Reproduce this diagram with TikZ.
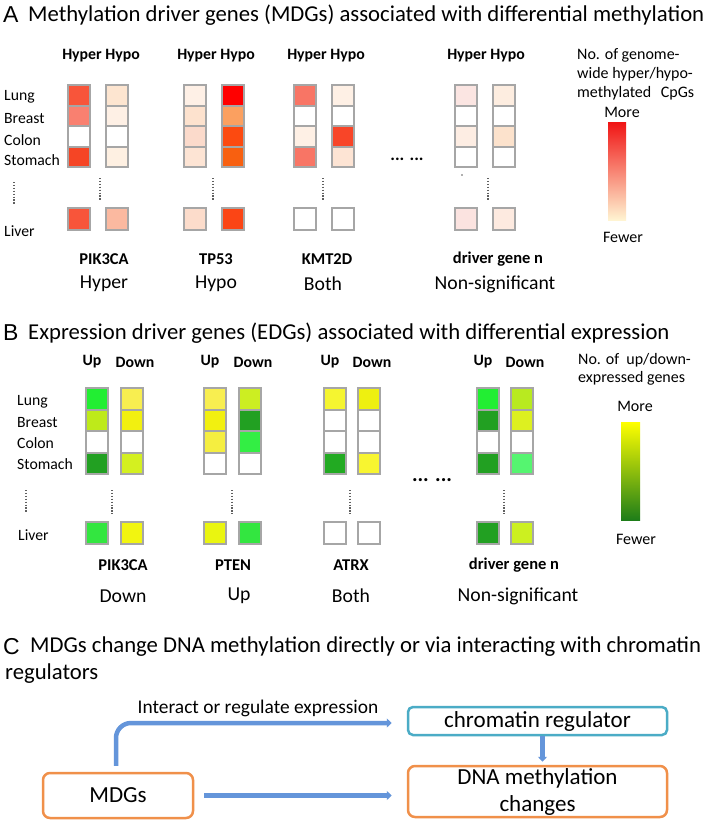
\documentclass[tikz,border=0pt]{standalone}
\usepackage{fontspec}
\setmainfont{Carlito}
\newfontfamily\arialf{Liberation Sans}
\usetikzlibrary{arrows.meta}
% panel A colours
\definecolor{pa1}{HTML}{F8553A}\definecolor{pa2}{HTML}{F98070}\definecolor{pa4}{HTML}{F54525}\definecolor{pa5}{HTML}{F8553A}
\definecolor{pb1}{HTML}{FDE5D0}\definecolor{pb2}{HTML}{FEF0E5}\definecolor{pb4}{HTML}{FEF0E2}\definecolor{pb5}{HTML}{FBB9A0}
\definecolor{ta1}{HTML}{FEF0E6}\definecolor{ta2}{HTML}{FDE2CE}\definecolor{ta3}{HTML}{FBDACB}\definecolor{ta4}{HTML}{FDE4D4}\definecolor{ta5}{HTML}{FCDCCB}
\definecolor{tb1}{HTML}{FF0000}\definecolor{tb2}{HTML}{FBA060}\definecolor{tb3}{HTML}{FC4A10}\definecolor{tb4}{HTML}{F86010}\definecolor{tb5}{HTML}{FB4515}
\definecolor{ka1}{HTML}{F87565}\definecolor{ka3}{HTML}{FEF0E5}
\definecolor{kb1}{HTML}{FEF0E5}\definecolor{kb3}{HTML}{F84528}\definecolor{kb4}{HTML}{FDE4D4}
\definecolor{da1}{HTML}{FBE5E2}\definecolor{da3}{HTML}{FDEDE3}\definecolor{da5}{HTML}{FBE3E0}
\definecolor{db1}{HTML}{FDEDE0}\definecolor{db3}{HTML}{FCE2CC}\definecolor{db5}{HTML}{FDEAE0}
% panel B colours
\definecolor{gbright}{HTML}{22EE33}\definecolor{gdark}{HTML}{22A022}\definecolor{gyg}{HTML}{BEEA1A}
\definecolor{ylight}{HTML}{F8EE50}\definecolor{yel}{HTML}{F2F010}\definecolor{yg}{HTML}{D4F020}
\definecolor{gliv}{HTML}{33E640}\definecolor{yliv}{HTML}{F2F510}\definecolor{ycol}{HTML}{F5EE40}
\definecolor{lgreen}{HTML}{CCEE22}\definecolor{gmid}{HTML}{33EE44}\definecolor{yatr}{HTML}{F5F530}
\definecolor{gatr}{HTML}{22AA22}\definecolor{yatr2}{HTML}{EEF010}\definecolor{yatr4}{HTML}{F8F530}
\definecolor{dn1}{HTML}{B8EA20}\definecolor{dn2}{HTML}{DDF020}\definecolor{dn4}{HTML}{55F570}\definecolor{dn5}{HTML}{CCF020}
\definecolor{ptu5}{HTML}{EAF510}
% misc
\definecolor{cellgray}{HTML}{A6A6A6}
\definecolor{boxorange}{HTML}{F0904A}
\definecolor{boxteal}{HTML}{4BACC6}
\definecolor{arrblue}{HTML}{6495DA}
\definecolor{dotgray}{HTML}{606060}
\newcommand\mycol[6]{%
  \foreach \cc [count=\i from 0] in {#4} {\filldraw[cellb, fill=\cc] (#1,{#2+\i*#3}) rectangle ++(22,#3);}
  \filldraw[cellb, fill=#6] (#1,#5) rectangle ++(22,22);}
\begin{document}
\begin{tikzpicture}[x=1pt,y=-1pt,
  cellb/.style={draw=cellgray, line width=2pt},
  plab/.style={font=\arialf\fontsize{23}{26}\selectfont, inner sep=0pt, anchor=west},
  ttl/.style={font=\fontsize{22.7}{26}\selectfont, inner sep=0pt, anchor=west},
  rlab/.style={font=\fontsize{15.7}{18}\selectfont, inner sep=0pt, anchor=west},
  hdr/.style={font=\bfseries\fontsize{15.8}{18}\selectfont, inner sep=0pt},
  gene/.style={font=\bfseries\fontsize{16.5}{19}\selectfont, inner sep=0pt},
  cat/.style={font=\fontsize{19.7}{23}\selectfont, inner sep=0pt},
  leg/.style={font=\fontsize{16}{19.5}\selectfont, inner sep=0pt},
  dotline/.style={draw=dotgray, line width=1.3pt, dash pattern=on 1.2pt off 1.7pt},
  obox/.style={draw=boxorange, line width=2.5pt, rounded corners=7pt, font=\fontsize{23}{27}\selectfont, align=center, inner sep=0pt},
  tbox/.style={draw=boxteal, line width=2.5pt, rounded corners=5pt, font=\fontsize{23}{27}\selectfont, inner sep=0pt},
  arrc/.style={draw=arrblue, line width=4.5pt, rounded corners=15pt, -{Triangle[length=5pt,width=9pt]}}
]
\useasboundingbox (0,0) rectangle (709,820);
\fill[white] (0,0) rectangle (709,820);

%% ---------------- Panel A ----------------
\node[plab] (Alab) at (3,15) {A};
\node[ttl] (Attl) at (28,15) {Methylation driver genes (MDGs) associated with differential methylation};
\foreach \xx/\nm in {101/a1,216/a2,326/a3,486/a4} {\node[hdr] (h\nm) at (\xx,56) {Hyper Hypo};}
\node[rlab] (aLung) at (4,97) {Lung};
\node[rlab] (aBreast) at (4,119) {Breast};
\node[rlab] (aColon) at (4,140) {Colon};
\node[rlab] (aStomach) at (4,160) {Stomach};
\node[rlab] (aLiver) at (4,231) {Liver};
\mycol{68}{85}{20.5}{pa1,pa2,white,pa4}{208}{pa5}
\mycol{106}{85}{20.5}{pb1,pb2,white,pb4}{208}{pb5}
\mycol{184}{85}{20.5}{ta1,ta2,ta3,ta4}{208}{ta5}
\mycol{222}{85}{20.5}{tb1,tb2,tb3,tb4}{208}{tb5}
\mycol{294}{85}{20.5}{ka1,white,ka3,ka1}{208}{white}
\mycol{332}{85}{20.5}{kb1,white,kb3,kb4}{208}{white}
\mycol{455}{85}{20.5}{da1,white,da3,white}{208}{da5}
\mycol{493}{85}{20.5}{db1,white,db3,white}{208}{db5}
\draw[dotline] (14,182) -- (14,205);
\foreach \xx in {100,213,323,488} {\draw[dotline] (\xx,178) -- (\xx,200);}
\fill[dotgray] (462,175) circle (0.8);
\node[font=\bfseries\fontsize{17.5}{18}\selectfont, inner sep=0pt, anchor=base] (adots) at (407,160) {... ...};
\node[gene] (gA1) at (104,259) {PIK3CA};
\node[gene] (gA2) at (216,259) {TP53};
\node[gene] (gA3) at (327,259) {KMT2D};
\node[gene] (gA4) at (498,259) {driver gene n};
\node[cat] (cA1) at (104,284) {Hyper};
\node[cat] (cA2) at (216,284) {Hypo};
\node[cat] (cA3) at (323,284) {Both};
\node[cat] (cA4) at (495,284) {Non-significant};
% legend A
\node[leg, anchor=west] (lA1) at (577,55) {No. of genome-};
\node[leg, anchor=west] (lA2) at (577,74) {wide hyper/hypo-};
\node[leg, anchor=west] (lA3) at (577,93) {methylated\hspace{0.6em}CpGs};
\node[leg] (lAm) at (622,112) {More};
\shade[top color={rgb,255:red,240;green,20;blue,20}, middle color={rgb,255:red,246;green,150;blue,135}, bottom color={rgb,255:red,255;green,244;blue,210}] (608,122) rectangle (626,220);
\node[leg] (lAf) at (623,237) {Fewer};

%% ---------------- Panel B ----------------
\node[plab] (Blab) at (3,333) {B};
\node[ttl] (Bttl) at (28,333) {Expression driver genes (EDGs) associated with differential expression};
\foreach \xa/\xb/\nm in {86/121/b1,204/239/b2,324/358/b3,477/511/b4} {
  \node[hdr] (u\nm) at (\xa+11-5,362) {Up};
  \node[hdr] (d\nm) at (\xb+11+3,362) {Down};}
\node[rlab] (bLung) at (17,402) {Lung};
\node[rlab] (bBreast) at (17,423) {Breast};
\node[rlab] (bColon) at (17,443) {Colon};
\node[rlab] (bStomach) at (17,464) {Stomach};
\node[rlab] (bLiver) at (18,535) {Liver};
\mycol{86}{388}{21.5}{gbright,gyg,white,gdark}{522}{gliv}
\mycol{121}{388}{21.5}{ylight,yel,white,yg}{522}{yliv}
\mycol{204}{388}{21.5}{ylight,yel,ycol,white}{522}{ptu5}
\mycol{239}{388}{21.5}{lgreen,gdark,gmid,white}{522}{gliv}
\mycol{324}{388}{21.5}{yatr,white,white,gatr}{522}{white}
\mycol{358}{388}{21.5}{yatr2,white,white,yatr4}{522}{white}
\mycol{477}{388}{21.5}{gbright,gdark,white,gdark}{522}{gdark}
\mycol{511}{388}{21.5}{dn1,dn2,white,dn4}{522}{dn5}
\draw[dotline] (26,490) -- (26,512);
\foreach \xx in {112,232,350,504} {\draw[dotline] (\xx,490) -- (\xx,514);}
\node[font=\bfseries\fontsize{21}{22}\selectfont, inner sep=0pt, anchor=base] (bdots) at (432,481) {... ...};
\node[gene] (gB1) at (123,565) {PIK3CA};
\node[gene] (gB2) at (233,565) {PTEN};
\node[gene] (gB3) at (351,565) {ATRX};
\node[gene] (gB4) at (514,565) {driver gene n};
\node[cat] (cB1) at (123,596) {Down};
\node[cat] (cB2) at (239,596) {Up};
\node[cat] (cB3) at (351,596) {Both};
\node[cat] (cB4) at (518,596) {Non-significant};
% legend B
\node[leg, anchor=west] (lB1) at (578,360) {No. of~~up/down-};
\node[leg, anchor=west] (lB2) at (578,378) {expressed genes};
\node[leg] (lBm) at (635,406) {More};
\shade[top color={rgb,255:red,255;green,255;blue,0}, middle color={rgb,255:red,160;green,180;blue,24}, bottom color={rgb,255:red,30;green,125;blue,25}] (621,422) rectangle (640,520);
\node[leg] (lBf) at (636,539) {Fewer};

%% ---------------- Panel C ----------------
\node[plab] (Clab) at (3,647) {C};
\node[ttl] (Cttl) at (30,647) {MDGs change DNA methylation directly or via interacting with chromatin};
\node[ttl] (Cttl2) at (5,674) {regulators};
\node[obox, minimum width=150pt, minimum height=45pt] (mdgs) at (118,795.5) {MDGs};
\node[tbox, minimum width=259pt, minimum height=28pt] (chrom) at (537.5,721) {chromatin regulator};
\node[obox, minimum width=259pt, minimum height=51pt] (dna) at (537.5,791.5) {DNA methylation\\changes};
\node[font=\fontsize{19.4}{22}\selectfont, inner sep=0pt] (ilab) at (258,708) {Interact or regulate expression};
\coordinate (bendA) at (chrom.west |- mdgs.east);
\draw[arrc] ([xshift=-2pt,yshift=6pt]mdgs.north) |- ([xshift=-15pt,yshift=-2pt]chrom.west);
\draw[arrc, rounded corners=0pt] ([xshift=10pt]mdgs.east) -- ([xshift=-15pt]bendA);
\draw[arrc, rounded corners=0pt] ([xshift=5pt]chrom.south) -- ([xshift=5pt,yshift=3pt]dna.north);
\end{tikzpicture}
\end{document}
